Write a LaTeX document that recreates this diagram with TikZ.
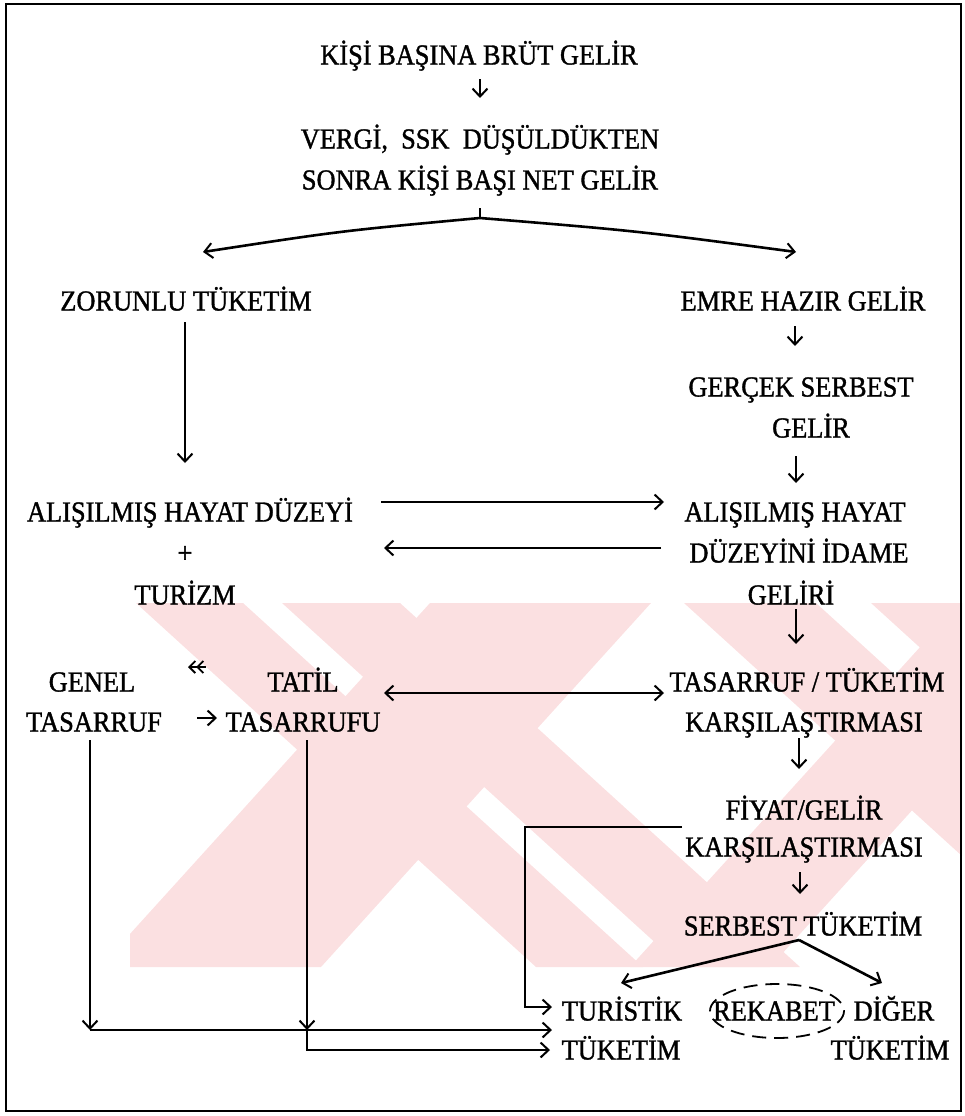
\documentclass[tikz,border=0pt]{standalone}
\usepackage{fontspec}
\setmainfont{Liberation Serif}[FakeStretch=0.91,FakeBold=1.2]
\usetikzlibrary{arrows.meta,calc}
\definecolor{wmpink}{RGB}{251,224,225}

\begin{document}
\begin{tikzpicture}[x=1pt,y=-1pt,
  lbl/.style={font=\fontsize{29}{34}\selectfont, inner sep=0pt, text height=19pt, text depth=0pt},
  tip/.style={-{Straight Barb[length=8pt,width=15pt,line width=2pt]}},
  tips/.style={{Straight Barb[length=8pt,width=15pt,line width=2pt]}-{Straight Barb[length=8pt,width=15pt,line width=2pt]}},
  dtip/.style={-{Straight Barb[length=6pt,width=12pt,line width=1.8pt] Straight Barb[length=6pt,width=12pt,line width=1.8pt]}},
  conn/.style={line width=2.6pt},
  thinline/.style={line width=1.4pt},
  small/.style={line width=2pt, tip},
  frame/.style={line width=2.6pt},
  bs/.style={fill=wmpink, draw=none}]

\useasboundingbox (0,0) rectangle (964,1116);

% ---- faint background stripes ----
\begin{scope}
  \clip (130,603) rectangle (962,967);
  % falling stripes
  \foreach \a/\b in {136/243, 282/400, 684/816, 871/1000}
    \fill[bs] (\a,603) -- (\b,603) -- (\b+400,967) -- (\a+400,967) -- cycle;
  % rising stripes
  \foreach \a/\b in {430/651, 960/1100}
    \fill[bs] (\a,603) -- (\b,603) -- (\b-330,967) -- (\a-330,967) -- cycle;
\end{scope}

\draw[frame] (6,4) rectangle (961,1111);

% ---- text ----
\node[lbl] (kisi)     at (479,55)   {KİŞİ BAŞINA BRÜT GELİR};
\node[lbl] (vergi)    at (480,139)  {VERGİ,\ \ SSK\ \ DÜŞÜLDÜKTEN};
\node[lbl] (sonra)    at (480,180)  {SONRA KİŞİ BAŞI NET GELİR};
\node[lbl] (zor)      at (186,301)  {ZORUNLU TÜKETİM};
\node[lbl] (emre)     at (803,301)  {EMRE HAZIR GELİR};
\node[lbl] (gercek)   at (801,387)  {GERÇEK SERBEST};
\node[lbl] (gelir1)   at (811,428)  {GELİR};
\node[lbl] (alisL)    at (190,512)  {ALIŞILMIŞ HAYAT DÜZEYİ};
\node[lbl] (plus)     at (185,553)  {+};
\node[lbl] (turizm)   at (185,595)  {TURİZM};
\node[lbl] (alisR)    at (795,512)  {ALIŞILMIŞ HAYAT};
\node[lbl] (duzeyini) at (799,553)  {DÜZEYİNİ İDAME};
\node[lbl] (geliri)   at (791,595)  {GELİRİ};
\node[lbl] (genel)    at (92,682)   {GENEL};
\node[lbl] (tasarruf) at (94,722)   {TASARRUF};
\node[lbl] (tatil)    at (303,682)  {TATİL};
\node[lbl] (tatilt)   at (303,722)  {TASARRUFU};
\node[lbl] (tt)       at (807,682)  {TASARRUF / TÜKETİM};
\node[lbl] (karsi1)   at (804,722)  {KARŞILAŞTIRMASI};
\node[lbl] (fiyat)    at (804,810)  {FİYAT/GELİR};
\node[lbl] (karsi2)   at (804,847)  {KARŞILAŞTIRMASI};
\node[lbl] (serbest)  at (803,926)  {SERBEST TÜKETİM};
\node[lbl] (turistik) at (622,1011) {TURİSTİK};
\node[lbl] (rekabet)  at (774,1011) {REKABET};
\node[lbl] (diger)    at (894,1011) {DİĞER};
\node[lbl] (tuketimL) at (621,1050) {TÜKETİM};
\node[lbl] (tuketimR) at (890,1050) {TÜKETİM};

% ---- junction points ----
\coordinate (split)  at (480,218);
\coordinate (tipL)   at (203,252);
\coordinate (tipR)   at (796,252);
\coordinate (split2) at (799,940);
\coordinate (tipL2)  at (621,983);
\coordinate (tipR2)  at (882,983);
\coordinate (j1)     at (90,1030);
\coordinate (j2)     at (307,1030);

% ---- top part ----
\draw[small] ($(kisi.center)+(1,24)$) -- ($(vergi.center)+(0,-41)$);
\draw[line width=2pt] ($(sonra.center)+(0,28)$) -- (split);
\draw[conn,tip] (split) .. controls (340,231) .. (tipL);
\draw[conn,tip] (split) .. controls (638,231) .. (tipR);

% ---- left column ----
\draw[thinline,tip] ($(zor.center)+(-1,21)$) -- ($(alisL.center)+(-5,-49)$);

% ---- right column ----
\draw[small] ($(emre.center)+(-8,25)$) -- ($(gercek.center)+(-6,-41)$);
\draw[small] ($(gelir1.center)+(-15,28)$) -- ($(alisR.center)+(1,-29)$);
\draw[small] ($(geliri.center)+(5,14)$) -- ($(tt.center)+(-11,-38)$);
\draw[thinline,tip] ($(karsi1.center)+(-5,16)$) -- ($(fiyat.center)+(-5,-41)$);
\draw[small] ($(karsi2.center)+(-4,25)$) -- ($(serbest.center)+(-3,-32)$);

% ---- cross links ----
\draw[conn,tip] ($(alisL.center)+(191,-10)$) -- ($(alisR.center)+(-131,-10)$);
\draw[conn,tip] ($(duzeyini.center)+(-138,-5)$) -- ($(alisL.center)+(194,36)$);
\draw[line width=1.8pt,dtip] ($(tatil.center)+(-97,-15)$) -- ($(genel.center)+(96,-15)$);
\draw[small] ($(tasarruf.center)+(103,-4)$) -- ($(tatilt.center)+(-86,-4)$);
\draw[conn,tips] ($(tatil.center)+(81,11)$) -- ($(tt.center)+(-143,11)$);

% ---- free consumption split ----
\draw[conn] ($(serbest.center)+(-4,14)$) -- (split2);
\draw[conn,tip] (split2) -- (tipL2);
\draw[conn,tip] (split2) -- (tipR2);
\draw[line width=1.8pt, dash pattern=on 14pt off 8pt] (777,1011) ellipse [x radius=67, y radius=27];

% ---- savings into tourist consumption ----
\draw[conn,tip] ($(fiyat.center)+(-122,17)$) -- ++(-157,0) |- ($(turistik.center)+(-70,-4)$);
\draw[thinline,tip] ($(tasarruf.center)+(-4,18)$) -- (j1);
\draw[conn,tip] (j1) -- ($(turistik.center)+(-70,19)$);
\draw[thinline,tip] ($(tatilt.center)+(4,18)$) -- (j2);
\draw[conn,tip] (j2) |- ($(tuketimL.center)+(-71,0)$);
\end{tikzpicture}
\end{document}
